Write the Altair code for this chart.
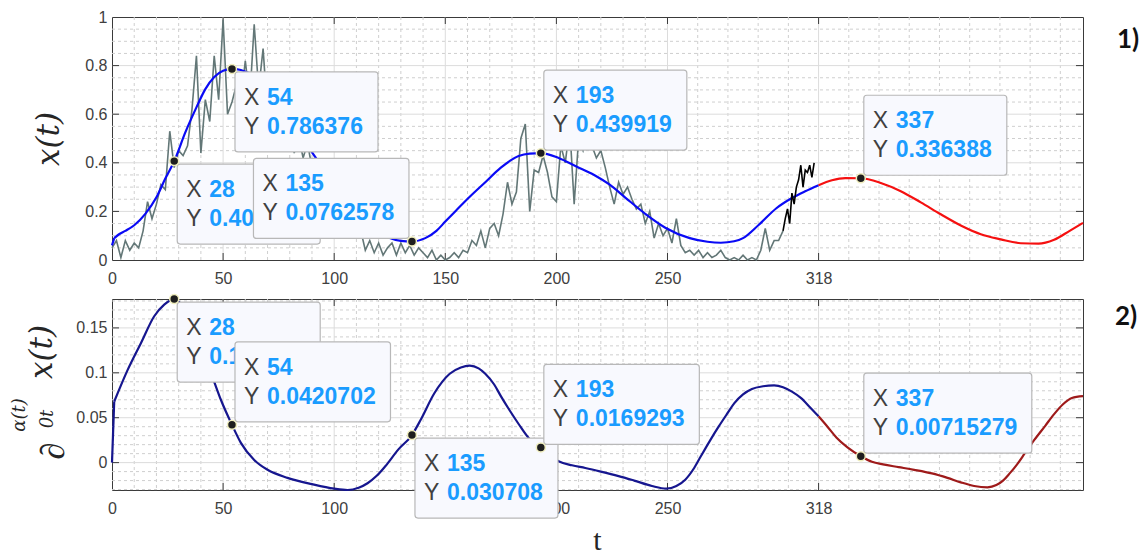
import altair as alt
import pandas as pd

# ---------------- data ----------------
# observed series (grey), sampled every 2 days
obs_t = list(range(0, 304, 2))
obs_x = [
    0.05, 0.08, 0.01, 0.08, 0.04, 0.07, 0.05, 0.12, 0.24, 0.17,
    0.23, 0.31, 0.29, 0.53, 0.38, 0.45, 0.43, 0.47, 0.62, 0.84,
    0.44, 0.66, 0.57, 0.84, 0.66, 0.99, 0.60, 0.65, 0.72, 0.66,
    0.82, 0.66, 0.97, 0.70, 0.87, 0.60, 0.70, 0.55, 0.63, 0.50,
    0.56, 0.44, 0.51, 0.42, 0.48, 0.38, 0.40, 0.30, 0.35, 0.25,
    0.30, 0.20, 0.24, 0.15, 0.18, 0.10, 0.12, 0.04, 0.08, 0.03,
    0.07, 0.02, 0.05, 0.07, 0.02, 0.07, 0.03, 0.06, 0.02, 0.05,
    0.03, 0.01, 0.04, 0.00, 0.02, 0.00, 0.01, 0.03, 0.01, 0.04,
    0.03, 0.08, 0.06, 0.12, 0.05, 0.13, 0.15, 0.10, 0.19, 0.32,
    0.23, 0.28, 0.50, 0.56, 0.20, 0.37, 0.36, 0.43, 0.36, 0.26,
    0.24, 0.47, 0.40, 0.55, 0.23, 0.50, 0.45, 0.52, 0.47, 0.42,
    0.45, 0.38, 0.30, 0.23, 0.32, 0.27, 0.30, 0.25, 0.21, 0.23,
    0.15, 0.20, 0.09, 0.15, 0.10, 0.13, 0.07, 0.17, 0.06, 0.03,
    0.04, 0.02, 0.04, 0.01, 0.03, 0.01, 0.02, 0.04, 0.01, 0.00,
    0.01, 0.00, 0.02, 0.00, 0.01, 0.00, 0.04, 0.13, 0.04, 0.08,
    0.08, 0.12,
]

# most recent observations (black)
recent_t = [302, 303, 304, 305, 306, 307, 308, 309, 310, 311, 312, 313, 314, 315, 316]
recent_x = [0.12, 0.17, 0.21, 0.15, 0.275, 0.23, 0.30, 0.33, 0.39, 0.30, 0.37, 0.36, 0.39, 0.34, 0.40]

# fitted model x(t) up to t = 318 (blue) and its continuation (red)
fit_t = [0, 1, 3, 6, 10, 15, 20, 24, 28, 33, 38, 42, 46, 50, 54, 58, 64, 70, 76, 82,
         88, 94, 100, 106, 112, 118, 124, 130, 135, 141, 146, 150, 155, 161, 168, 175, 183, 188, 193, 201,
         209, 217, 224, 231, 240, 249, 260, 268, 274, 280, 284, 291, 299, 306, 312, 318]
fit_x = [0.06, 0.09, 0.105, 0.12, 0.143, 0.19, 0.258, 0.335, 0.406953, 0.525,
         0.628, 0.703, 0.753, 0.779, 0.786376, 0.782, 0.755, 0.70, 0.63, 0.55,
         0.47, 0.39, 0.31, 0.235, 0.17, 0.122, 0.094, 0.079, 0.0762578, 0.09,
         0.12, 0.158, 0.205, 0.26, 0.32, 0.38, 0.428, 0.438, 0.439919, 0.42,
         0.385, 0.35, 0.31, 0.257, 0.19, 0.133, 0.09, 0.075, 0.071, 0.077,
         0.09, 0.144, 0.213, 0.255, 0.283, 0.308]
pred_t = [318, 324, 330, 337, 346, 355, 364, 373, 382, 391, 400, 409, 417, 424, 431, 437]
pred_x = [0.308, 0.328, 0.337, 0.336388, 0.317, 0.283, 0.237, 0.188, 0.142, 0.106,
          0.085, 0.069, 0.067, 0.083, 0.12, 0.153]

# variable-order fractional derivative of x(t)
dfit_t = [0, 1, 7, 13, 19, 23.5, 28, 33, 38, 42, 46, 49, 54, 58, 64, 70, 79, 90, 100, 106,
          111, 115, 119, 123, 129, 135, 139, 145, 152, 157, 161, 165, 168, 172, 175, 179, 183, 188, 193, 197,
          201, 207, 213, 220, 228, 235, 243, 249.5, 254, 258, 262, 265, 269, 273, 277, 280, 284, 288, 293, 298,
          302, 306, 310, 314, 318]
dfit_x = [0.0, 0.068, 0.103, 0.133, 0.163, 0.176, 0.182158, 0.17, 0.145, 0.117,
          0.09, 0.07, 0.0420702, 0.022, 0.003, -0.008, -0.017, -0.024, -0.029, -0.0305,
          -0.028, -0.023, -0.015, -0.004, 0.015, 0.030708, 0.048, 0.077, 0.099, 0.106,
          0.108, 0.105, 0.099, 0.087, 0.074, 0.058, 0.043, 0.026, 0.0169293, 0.008,
          0.0015, -0.003, -0.006, -0.010, -0.015, -0.020, -0.026, -0.029, -0.026, -0.019,
          -0.006, 0.007, 0.024, 0.04, 0.055, 0.066, 0.076, 0.082, 0.085, 0.086,
          0.084, 0.079, 0.072, 0.062, 0.0515]
dpred_t = [318, 322, 326, 331, 337, 342, 347, 354, 361, 369, 376, 382, 388, 394, 398, 401,
           404, 407, 411, 415, 420, 424, 428, 432, 437]
dpred_x = [0.0515, 0.04, 0.028, 0.017, 0.00715279, 0.001, -0.002, -0.005, -0.008, -0.012,
           -0.017, -0.022, -0.026, -0.0275, -0.025, -0.02, -0.012, -0.003, 0.011, 0.025,
           0.041, 0.054, 0.065, 0.072, 0.074]

# data tips
tip_t = [28, 54, 135, 193, 337]
tip_x = [0.406953, 0.786376, 0.0762578, 0.439919, 0.336388]
tip_d = [0.182158, 0.0420702, 0.030708, 0.0169293, 0.00715279]

# axis ticks
x_ticks = [0, 50, 100, 150, 200, 250, 318]
y1_ticks = [0, 0.2, 0.4, 0.6, 0.8, 1]
y2_ticks = [0, 0.05, 0.1, 0.15]

# ---------------- style ----------------
W = 971
H1 = 243
H2 = 191
T_MAX = 437
AX = "#3a3a3a"
LBL = "#404040"
GRID = "#dcdcdc"
MINOR = "#cfcfcf"
SANS = "Liberation Sans"
SERIF = "DejaVu Serif"
TIP_BLUE = "#1a9cff"

# minor grid: every 10 up to 250, then five equal steps per major interval
x_minor = [v for v in range(10, 250, 10) if v % 50] \
    + [round(250 + 68 * k / 5, 1) for k in range(1, 5)] \
    + [round(318 + 68 * k / 5, 1) for k in range(1, 9)]
y1_minor = [round(0.05 * k, 2) for k in range(1, 20) if k % 4]
y2_minor = [round(0.01 * k, 2) for k in range(-3, 19) if k % 5]

xs = alt.Scale(domain=[0, T_MAX], nice=False, zero=False)
one_row = pd.DataFrame({"k": [0]})


def axes_layer(ys, y_vals):
    """Invisible layer that carries both axes of a panel."""
    x_axis = alt.Axis(values=x_ticks, title=None, grid=False, ticks=False, domain=False,
                      labelPadding=10, labelFlush=False, labelOverlap=False, format="d")
    y_axis = alt.Axis(values=y_vals, title=None, grid=False, ticks=False, domain=False,
                      labelPadding=5, format="~g", labelOverlap=False)
    return alt.Chart(pd.DataFrame({"t": [0], "v": [y_vals[0]]})).mark_point(opacity=0).encode(
        x=alt.X("t:Q", scale=xs, axis=x_axis), y=alt.Y("v:Q", scale=ys, axis=y_axis))


def vrules(values, h, color, dash=None):
    kw = {"strokeDash": dash} if dash else {}
    return alt.Chart(pd.DataFrame({"g": values})).mark_rule(color=color, strokeWidth=1, **kw).encode(
        x=alt.X("g:Q", scale=xs), y=alt.value(0), y2=alt.value(h))


def hrules(values, ys, color, dash=None):
    kw = {"strokeDash": dash} if dash else {}
    return alt.Chart(pd.DataFrame({"g": values})).mark_rule(color=color, strokeWidth=1, **kw).encode(
        y=alt.Y("g:Q", scale=ys), x=alt.value(0), x2=alt.value(W))


def inward_ticks(y_values, ys, h):
    layers = []
    xdf = pd.DataFrame({"g": x_ticks[1:]})
    ydf = pd.DataFrame({"g": y_values})
    for a, b in ((0, 7), (h, h - 7)):
        layers.append(alt.Chart(xdf).mark_rule(color=AX, strokeWidth=1).encode(
            x=alt.X("g:Q", scale=xs), y=alt.value(a), y2=alt.value(b)))
    for a, b in ((0, 7), (W, W - 7)):
        layers.append(alt.Chart(ydf).mark_rule(color=AX, strokeWidth=1).encode(
            y=alt.Y("g:Q", scale=ys), x=alt.value(a), x2=alt.value(b)))
    return layers


def series(ts, vs, ys, color, width, interp="monotone"):
    return alt.Chart(pd.DataFrame({"t": ts, "v": vs})).mark_line(
        color=color, strokeWidth=width, interpolate=interp).encode(
        x=alt.X("t:Q", scale=xs), y=alt.Y("v:Q", scale=ys))


def curve(ts, vs, ys, color, width):
    """Smooth curve whose first step (the jump at t = 0) is drawn straight."""
    return [series(ts[:2], vs[:2], ys, color, width, "linear"),
            series(ts[1:], vs[1:], ys, color, width)]


def data_tip(t, v, place, ys):
    sx, sy = place
    label = f"{v:.6g}"
    w = 43 + 12.5 * len(label)
    h = 80
    g = 3
    bx = g if sx > 0 else -g - w
    by = g if sy > 0 else -g - h
    src = alt.Chart(pd.DataFrame({"t": [t], "v": [v], "xl": ["X"], "yl": ["Y"],
                                  "xs": [f"{t:g}"], "vs": [label]})).encode(
        x=alt.X("t:Q", scale=xs), y=alt.Y("v:Q", scale=ys))
    box = src.mark_rect(xOffset=bx, x2Offset=bx + w, yOffset=by, y2Offset=by + h,
                        cornerRadius=3, fill="#f8f9fe", stroke="#b8b8b8", strokeWidth=1.2).encode(
        x2="t:Q", y2="v:Q")
    common = dict(align="left", baseline="middle", font=SANS, fontSize=23)
    lx = src.mark_text(dx=bx + 9, dy=by + 26, color=LBL, **common).encode(text="xl:N")
    vx = src.mark_text(dx=bx + 32, dy=by + 26, color=TIP_BLUE, fontWeight="bold", **common).encode(text="xs:N")
    ly = src.mark_text(dx=bx + 9, dy=by + 55, color=LBL, **common).encode(text="yl:N")
    vy = src.mark_text(dx=bx + 32, dy=by + 55, color=TIP_BLUE, fontWeight="bold", **common).encode(text="vs:N")
    dot = src.mark_circle(size=80, color="#1e1e1e", stroke="#efedbd", strokeWidth=1.5, opacity=1)
    return [box, lx, vx, ly, vy, dot]


def label(text, x, y, size, font=SERIF, style="italic", weight="normal", angle=0, color="#262626"):
    kw = {"angle": angle} if angle else {}
    return alt.Chart(one_row).mark_text(
        font=font, fontSize=size, fontStyle=style, fontWeight=weight, color=color,
        align="center", baseline="middle", **kw).encode(
        x=alt.value(x), y=alt.value(y), text=alt.value(text))


# ---------------- panel 1: x(t) ----------------
ys1 = alt.Scale(domain=[0, 1], nice=False, zero=False)
top_layers = [
    axes_layer(ys1, y1_ticks),
    vrules(x_minor, H1, MINOR, [3, 3]),
    hrules(y1_minor, ys1, MINOR, [3, 3]),
    vrules(x_ticks[1:], H1, GRID),
    hrules(y1_ticks[1:-1], ys1, GRID),
    *inward_ticks(y1_ticks[1:-1], ys1, H1),
    series(obs_t, obs_x, ys1, "#637777", 1.6, "linear"),
    *curve(fit_t, fit_x, ys1, "#0a0af5", 2.2),
    series(pred_t, pred_x, ys1, "#f51010", 2.2),
    series(recent_t, recent_x, ys1, "#000000", 1.6, "linear"),
]
top_place = [(1, 1), (1, 1), (-1, -1), (1, -1), (1, -1)]
for t, v, p in zip(tip_t, tip_x, top_place):
    top_layers += data_tip(t, v, p, ys1)
top_layers += [
    label("x(t)", -62, 122, 31, angle=270),
    label("1)", 1016, 23, 26, font="Lato", style="normal", weight="bold", color="#111111"),
]
top = alt.layer(*top_layers).properties(width=W, height=H1)

# ---------------- panel 2: fractional derivative ----------------
ys2 = alt.Scale(domain=[-0.0305, 0.1822], nice=False, zero=False)
bot_layers = [
    axes_layer(ys2, y2_ticks),
    vrules(x_minor, H2, MINOR, [3, 3]),
    hrules(y2_minor, ys2, MINOR, [3, 3]),
    vrules(x_ticks[1:], H2, GRID),
    hrules(y2_ticks, ys2, GRID),
    *inward_ticks(y2_ticks, ys2, H2),
    *curve(dfit_t, dfit_x, ys2, "#16168f", 2.2),
    series(dpred_t, dpred_x, ys2, "#9e1a1a", 2.2),
]
bot_place = [(1, 1), (1, -1), (1, 1), (1, -1), (1, -1)]
for t, v, p in zip(tip_t, tip_d, bot_place):
    bot_layers += data_tip(t, v, p, ys2)
bot_layers += [
    label("x(t)", -69, 53, 31, angle=270),
    label("\u2202", -58, 152, 34, font="Liberation Serif", angle=270),
    label("\u03b1(t)", -92, 116, 18, angle=270),
    label("0t", -64, 120, 18, angle=270),
    label("t", W / 2, 242, 30, font="Liberation Serif", style="normal"),
    label("2)", 1014, 18, 26, font="Lato", style="normal", weight="bold", color="#111111"),
]
bottom = alt.layer(*bot_layers).properties(width=W, height=H2)

chart = alt.vconcat(top, bottom, spacing=4).properties(
    padding={"left": 10, "top": 8, "right": 0, "bottom": 0}
).configure_view(
    stroke=AX, strokeWidth=1
).configure_axis(
    labelFont=SANS, labelFontSize=16, labelColor=LBL
)

chart.save("out.html", embed_options={"renderer": "svg", "actions": False})
